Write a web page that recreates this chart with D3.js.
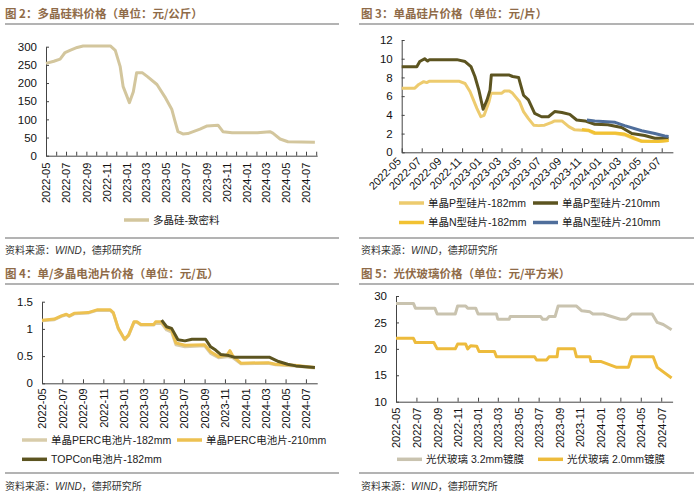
<!DOCTYPE html>
<html><head><meta charset="utf-8">
<script src="https://cdn.jsdelivr.net/npm/d3@7"></script>
<style>
body{margin:0;background:#fff;}
svg{display:block;font-family:"Liberation Sans","Noto Sans CJK SC",sans-serif;}
</style></head><body>
<svg id="c" width="700" height="495"></svg>
<script>
// ---------------- DATA ----------------
const tickLabels = ["2022-05","2022-07","2022-09","2022-11","2023-01","2023-03","2023-05","2023-07","2023-09","2023-11","2024-01","2024-03","2024-05","2024-07"];

const polyTicks = [0,50,100,150,200,250,300];
const waferTicks = [0,2,4,6,8,10,12];
const cellTicks = [0,0.5,1,1.5];
const glassTicks = [10,15,20,25,30];

// 图2 多晶硅-致密料 (元/公斤)
const polyDense = [["2022-05-01",254],["2022-05-25",260],["2022-06-13",266],["2022-06-28",284],["2022-07-13",290],["2022-08-04",298],["2022-08-22",302],["2022-11-13",302],["2022-11-28",290],["2022-12-13",245],["2022-12-22",190],["2023-01-10",146],["2023-01-22",176],["2023-02-01",228],["2023-02-19",228],["2023-03-07",217],["2023-04-04",196],["2023-04-28",162],["2023-05-19",128],["2023-05-28",98],["2023-06-07",66],["2023-06-22",60],["2023-07-07",61],["2023-08-13",73],["2023-09-04",82],["2023-10-07",84],["2023-10-22",66],["2023-11-19",63],["2024-02-04",63],["2024-03-13",66],["2024-03-22",62],["2024-04-13",46],["2024-05-07",38.5],["2024-07-28",37]];

// 图3 单晶硅片 (元/片)
const waferP182 = [["2022-05-01",6.85],["2022-06-10",6.85],["2022-06-22",7.25],["2022-07-07",7.55],["2022-07-16",7.45],["2022-07-25",7.6],["2022-10-22",7.6],["2022-11-10",7.35],["2022-11-25",6.5],["2022-12-16",4.7],["2022-12-28",3.8],["2023-01-07",3.95],["2023-01-22",5.4],["2023-01-28",6.3],["2023-03-01",6.3],["2023-03-10",6.55],["2023-03-25",6.55],["2023-04-04",6.3],["2023-04-25",5.4],["2023-05-07",4.35],["2023-05-22",3.6],["2023-06-07",2.9],["2023-06-22",2.85],["2023-07-10",2.9],["2023-08-01",3.2],["2023-08-10",3.35],["2023-09-01",3.35],["2023-09-22",2.75],["2023-10-10",2.4],["2023-11-22",2.3],["2023-12-10",2.0],["2024-02-10",2.0],["2024-03-10",1.85],["2024-04-10",1.4],["2024-05-01",1.15],["2024-06-19",1.15],["2024-07-22",1.25]];
const waferP210 = [["2022-05-01",9.15],["2022-06-16",9.15],["2022-06-25",9.7],["2022-07-10",10.0],["2022-07-19",9.75],["2022-07-25",9.9],["2022-10-16",9.9],["2022-11-10",9.7],["2022-11-28",9.15],["2022-12-10",8.1],["2022-12-22",6.65],["2023-01-04",4.6],["2023-01-16",5.6],["2023-01-25",6.65],["2023-01-29",8.25],["2023-03-25",8.25],["2023-04-04",8.1],["2023-04-22",8.0],["2023-05-07",6.1],["2023-05-22",5.6],["2023-06-10",4.15],["2023-07-01",3.8],["2023-07-22",3.8],["2023-08-10",4.35],["2023-09-01",4.25],["2023-09-25",4.05],["2023-10-16",3.45],["2023-11-10",3.35],["2023-12-10",3.0],["2024-01-19",2.95],["2024-03-01",2.65],["2024-04-01",2.0],["2024-05-10",1.8],["2024-06-10",1.5],["2024-07-22",1.5]];
const waferN182 = [["2023-11-01",2.45],["2023-11-22",2.35],["2023-12-10",2.1],["2024-02-10",2.05],["2024-03-10",1.95],["2024-04-07",1.55],["2024-05-01",1.2],["2024-06-19",1.15],["2024-07-22",1.25]];
const waferN210 = [["2023-11-16",3.45],["2023-12-10",3.35],["2024-02-10",3.2],["2024-03-10",2.85],["2024-05-01",2.3],["2024-06-10",2.0],["2024-07-10",1.75],["2024-07-22",1.7]];

// 图4 电池片 (元/瓦)
const cellPerc182 = [["2022-05-01",1.15],["2022-06-07",1.17],["2022-06-28",1.23],["2022-07-13",1.26],["2022-07-22",1.23],["2022-08-07",1.28],["2022-09-16",1.29],["2022-10-13",1.34],["2022-11-22",1.34],["2022-12-01",1.29],["2022-12-16",1.0],["2023-01-04",0.8],["2023-01-16",0.88],["2023-02-01",1.12],["2023-02-10",1.12],["2023-02-22",1.07],["2023-04-01",1.07],["2023-04-07",1.1],["2023-04-25",1.1],["2023-05-10",0.98],["2023-05-25",0.94],["2023-06-07",0.71],["2023-07-04",0.67],["2023-09-01",0.69],["2023-09-19",0.55],["2023-10-13",0.47],["2023-11-07",0.49],["2023-11-25",0.47],["2023-12-19",0.36],["2024-03-10",0.37],["2024-04-01",0.34],["2024-05-28",0.32],["2024-07-28",0.28]];
const cellPerc210 = [["2022-05-01",1.16],["2022-06-07",1.18],["2022-06-28",1.24],["2022-07-13",1.27],["2022-07-22",1.24],["2022-08-07",1.29],["2022-09-16",1.30],["2022-10-13",1.35],["2022-11-22",1.35],["2022-12-01",1.30],["2022-12-16",1.01],["2023-01-04",0.81],["2023-01-16",0.89],["2023-02-01",1.13],["2023-02-10",1.13],["2023-02-22",1.08],["2023-04-01",1.08],["2023-04-07",1.13],["2023-04-25",1.13],["2023-05-10",1.01],["2023-05-25",0.98],["2023-06-07",0.74],["2023-07-04",0.70],["2023-09-01",0.71],["2023-09-19",0.58],["2023-10-13",0.49],["2023-11-07",0.52],["2023-11-16",0.60],["2023-11-25",0.50],["2023-12-19",0.37],["2024-03-10",0.38],["2024-04-01",0.35],["2024-05-28",0.33],["2024-07-28",0.29]];
const cellTopcon = [["2023-04-25",1.16],["2023-05-10",1.04],["2023-05-25",1.01],["2023-06-13",0.80],["2023-07-04",0.78],["2023-07-25",0.81],["2023-09-04",0.81],["2023-09-19",0.67],["2023-10-04",0.61],["2023-10-19",0.53],["2023-11-13",0.51],["2023-11-28",0.48],["2024-03-13",0.48],["2024-04-10",0.40],["2024-05-07",0.35],["2024-06-01",0.32],["2024-07-28",0.29]];

// 图5 光伏玻璃 (元/平方米)
const glass32 = [["2022-05-01",28.6],["2022-06-22",28.6],["2022-06-28",27.7],["2022-08-25",27.7],["2022-09-01",26.6],["2022-10-25",26.6],["2022-11-01",28.1],["2022-11-25",28.1],["2022-12-01",27.7],["2022-12-25",27.7],["2023-01-01",26.6],["2023-02-25",26.6],["2023-03-01",25.6],["2023-04-04",25.6],["2023-04-07",26.1],["2023-07-07",26.1],["2023-07-13",25.6],["2023-07-25",25.6],["2023-08-01",26.1],["2023-08-19",26.1],["2023-08-28",28.1],["2023-10-22",28.1],["2023-11-07",27.2],["2023-12-01",27.0],["2023-12-10",26.6],["2024-01-10",26.6],["2024-03-01",25.6],["2024-03-19",25.6],["2024-04-04",26.6],["2024-06-04",26.6],["2024-06-19",25.0],["2024-07-07",24.6],["2024-08-01",23.6]];
const glass20 = [["2022-05-01",22.0],["2022-06-22",22.0],["2022-06-28",21.2],["2022-08-22",21.2],["2022-09-01",20.0],["2022-10-25",20.0],["2022-11-01",20.9],["2022-11-25",20.9],["2022-12-01",20.0],["2022-12-10",20.6],["2022-12-28",20.5],["2023-01-04",19.5],["2023-02-19",19.5],["2023-02-25",18.5],["2023-06-19",18.5],["2023-06-25",17.9],["2023-07-25",17.9],["2023-08-01",18.5],["2023-08-25",18.5],["2023-08-28",20.0],["2023-10-16",20.0],["2023-10-22",18.5],["2023-12-01",18.5],["2023-12-04",17.6],["2024-01-04",17.6],["2024-02-19",16.5],["2024-03-25",16.5],["2024-04-04",18.5],["2024-06-07",18.5],["2024-06-19",16.5],["2024-08-01",14.5]];

// ---------------- DRAW ----------------
const svg = d3.select("#c");
const parse = d3.timeParse("%Y-%m-%d");
const T0 = parse("2022-05-01"), T1 = parse("2024-08-04");
const DAYS = (T1 - T0) / 864e5;
const labelSet = new Set(tickLabels);
const fmtM = d3.timeFormat("%Y-%m");

function frame(cfg) {
  const g = svg.append("g");
  g.append("text").attr("x", cfg.tx).attr("y", cfg.ty)
    .attr("font-family", "'Noto Sans CJK SC',sans-serif").attr("font-weight", "bold")
    .attr("font-size", 11.5).attr("fill", "#8F6B48").text(cfg.title);
  g.append("line").attr("x1", cfg.lx1).attr("x2", cfg.lx2).attr("y1", cfg.ly1).attr("y2", cfg.ly1)
    .attr("stroke", "#9a9a9a").attr("stroke-width", 1.3);
  g.append("line").attr("x1", cfg.lx1).attr("x2", cfg.lx2).attr("y1", cfg.ly2).attr("y2", cfg.ly2)
    .attr("stroke", "#9a9a9a").attr("stroke-width", 1.3);
  const s = g.append("text").attr("x", cfg.tx).attr("y", cfg.sy)
    .attr("font-family", "'Noto Sans CJK SC',sans-serif").attr("font-size", 10).attr("fill", "#333");
  s.append("tspan").text("资料来源：");
  s.append("tspan").attr("font-family", "'Liberation Sans',sans-serif").attr("font-style", "italic").text("WIND");
  s.append("tspan").text("，德邦研究所");
}

function chart(cfg) {
  const g = svg.append("g");
  const x = d3.scaleTime().domain([T0, T1]).range([cfg.x0, cfg.x0 + cfg.ppm * DAYS / 30.46]);
  const y = d3.scaleLinear().domain(cfg.yDomain).range([cfg.yBottom, cfg.yTop]);
  const tickDates = cfg.monthly
    ? d3.timeMonth.range(T0, parse("2024-08-02"))
    : tickLabels.map(s => parse(s + "-01"));
  const xa = d3.axisBottom(x).tickValues(tickDates).tickSizeInner(-4).tickSizeOuter(0)
    .tickFormat(d => labelSet.has(fmtM(d)) ? fmtM(d) : "");
  const gx = g.append("g").attr("transform", `translate(0,${cfg.yBottom})`).call(xa);
  gx.select(".domain").attr("stroke", "#444");
  gx.selectAll(".tick line").attr("stroke", "#444");
  const tx = gx.selectAll("text").attr("font-size", 11).attr("fill", "#111")
    .attr("font-family", "'Liberation Sans',sans-serif");
  if (cfg.rot === -90) {
    tx.attr("transform", "rotate(-90)").attr("x", -cfg.lgap).attr("y", 0).attr("dy", "0.35em").attr("text-anchor", "end");
  } else {
    tx.attr("transform", "translate(-3,7) rotate(-45)").attr("x", 0).attr("y", 0).attr("dy", "0.35em").attr("text-anchor", "end");
  }
  const ya = d3.axisLeft(y).tickValues(cfg.yTicks).tickSizeInner(-3).tickSizeOuter(0).tickPadding(9)
    .tickFormat(d3.format(""));
  const gy = g.append("g").attr("transform", `translate(${cfg.x0},0)`).call(ya);
  gy.select(".domain").attr("stroke", "#444");
  gy.selectAll(".tick line").attr("stroke", "#444");
  gy.selectAll("text").attr("font-size", 11.5).attr("fill", "#111").attr("font-family", "'Liberation Sans',sans-serif");

  const line = d3.line().x(d => x(parse(d[0]))).y(d => y(d[1]));
  cfg.series.forEach(s => {
    g.append("path").datum(s.data).attr("d", line).attr("fill", "none")
      .attr("stroke", s.color).attr("stroke-width", 3).attr("stroke-linejoin", "round");
  });
  cfg.legend.forEach((l, i) => {
    const s = cfg.series[i];
    g.append("line").attr("x1", l[0]).attr("x2", l[0] + 25).attr("y1", l[1]).attr("y2", l[1])
      .attr("stroke", s.color).attr("stroke-width", 3.5);
    g.append("text").attr("x", l[0] + 29).attr("y", l[1]).attr("dy", "0.36em")
      .attr("font-size", 10.5).attr("fill", "#222").text(s.name);
  });
}

frame({title: "图 2：多晶硅料价格（单位：元/公斤）", tx: 5, ty: 18, lx1: 5, lx2: 339, ly1: 24, ly2: 238, sy: 254});
frame({title: "图 3：单晶硅片价格（单位：元/片）", tx: 361, ty: 18, lx1: 359, lx2: 694, ly1: 24, ly2: 238, sy: 254});
frame({title: "图 4：单/多晶电池片价格（单位：元/瓦）", tx: 5, ty: 278, lx1: 5, lx2: 339, ly1: 284, ly2: 473, sy: 490});
frame({title: "图 5：光伏玻璃价格（单位：元/平方米）", tx: 361, ty: 278, lx1: 359, lx2: 694, ly1: 284, ly2: 473, sy: 490});

chart({x0: 46, ppm: 10, yBottom: 155.7, yTop: 46.7, yDomain: [0, 300], yTicks: polyTicks, monthly: true, rot: -90, lgap: 7,
  series: [{name: "多晶硅-致密料", color: "#D3C69D", data: polyDense}],
  legend: [[124, 220]]});

chart({x0: 401.7, ppm: 10, yBottom: 152.3, yTop: 40, yDomain: [0, 12], yTicks: waferTicks, monthly: false, rot: -45,
  series: [
    {name: "单晶P型硅片-182mm", color: "#EDCB6E", data: waferP182},
    {name: "单晶P型硅片-210mm", color: "#5C5420", data: waferP210},
    {name: "单晶N型硅片-182mm", color: "#F2C232", data: waferN182},
    {name: "单晶N型硅片-210mm", color: "#4F6E9B", data: waferN210}],
  legend: [[399, 203], [533, 203], [399, 222.5], [533, 222.5]]});

chart({x0: 42, ppm: 10.15, yBottom: 383.3, yTop: 301.7, yDomain: [0, 1.5], yTicks: cellTicks, monthly: false, rot: -90, lgap: 5,
  series: [
    {name: "单晶PERC电池片-182mm", color: "#D8CCAA", data: cellPerc182},
    {name: "单晶PERC电池片-210mm", color: "#EDC151", data: cellPerc210},
    {name: "TOPCon电池片-182mm", color: "#5C5420", data: cellTopcon}],
  legend: [[22, 440], [177, 440], [22, 459.3]]});

chart({x0: 396, ppm: 10.2, yBottom: 401.7, yTop: 296, yDomain: [10, 30], yTicks: glassTicks, monthly: false, rot: -90, lgap: 6,
  series: [
    {name: "光伏玻璃 3.2mm镀膜", color: "#C9C3AF", data: glass32},
    {name: "光伏玻璃 2.0mm镀膜", color: "#EDBB3C", data: glass20}],
  legend: [[397, 459.3], [538, 459.3]]});
</script>
</body></html>
